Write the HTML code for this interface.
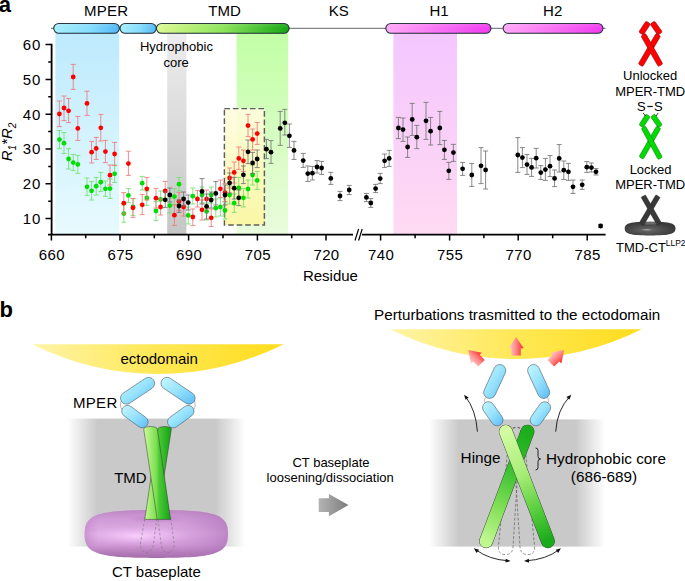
<!DOCTYPE html>
<html><head><meta charset="utf-8"><title>Figure</title>
<style>
html,body{margin:0;padding:0;background:#fff;}
body{width:685px;height:581px;overflow:hidden;}
svg{display:block;font-family:"Liberation Sans",sans-serif;}
text{fill:#000;}
</style></head><body>
<svg width="685" height="581" viewBox="0 0 685 581">
<defs>
<linearGradient id="gBlueBand" x1="0" y1="0" x2="0" y2="1"><stop offset="0" stop-color="#bdeafd"/><stop offset="1" stop-color="#e8fbfe"/></linearGradient>
<linearGradient id="gGreyBand" x1="0" y1="0" x2="0" y2="1"><stop offset="0" stop-color="#ededef"/><stop offset="1" stop-color="#c6c6c6"/></linearGradient>
<linearGradient id="gGreenBand" x1="0" y1="0" x2="0" y2="1"><stop offset="0" stop-color="#c2ffa6"/><stop offset="1" stop-color="#eafcdc"/></linearGradient>
<linearGradient id="gPinkBand" x1="0" y1="0" x2="0" y2="1"><stop offset="0" stop-color="#f4c6ff"/><stop offset="1" stop-color="#ffdaf2"/></linearGradient>
<linearGradient id="gYBox" x1="0" y1="0" x2="0" y2="1"><stop offset="0" stop-color="#fffde0"/><stop offset="1" stop-color="#fcf6a0"/></linearGradient>
<linearGradient id="gBluePill" x1="0" y1="0" x2="1" y2="0"><stop offset="0" stop-color="#a8f0ff"/><stop offset="0.55" stop-color="#86dcfc"/><stop offset="1" stop-color="#52b6f6"/></linearGradient>
<linearGradient id="gGreenPill" x1="0" y1="0" x2="1" y2="0"><stop offset="0" stop-color="#def994"/><stop offset="0.5" stop-color="#8ee45c"/><stop offset="1" stop-color="#14a614"/></linearGradient>
<linearGradient id="gPinkPill" x1="0" y1="0" x2="1" y2="0"><stop offset="0" stop-color="#ffaaf8"/><stop offset="1" stop-color="#f03cf0"/></linearGradient>
<linearGradient id="gPillHi" x1="0" y1="0" x2="0" y2="1"><stop offset="0" stop-color="#fff" stop-opacity="0.12"/><stop offset="0.5" stop-color="#fff" stop-opacity="0"/><stop offset="1" stop-color="#000" stop-opacity="0"/></linearGradient>
<linearGradient id="gYellow" x1="0" y1="0" x2="1" y2="0"><stop offset="0" stop-color="#fff4a8"/><stop offset="0.5" stop-color="#ffe855"/><stop offset="1" stop-color="#ffdc1c"/></linearGradient>
<linearGradient id="gMemb" x1="0" y1="0" x2="1" y2="0"><stop offset="0" stop-color="#c9c9c9" stop-opacity="0"/><stop offset="0.17" stop-color="#c9c9c9" stop-opacity="1"/><stop offset="0.83" stop-color="#c9c9c9" stop-opacity="1"/><stop offset="1" stop-color="#c9c9c9" stop-opacity="0"/></linearGradient>
<linearGradient id="gRodL" gradientUnits="userSpaceOnUse" x1="144" y1="0" x2="171" y2="0"><stop offset="0" stop-color="#ccfb9a"/><stop offset="0.46" stop-color="#7ade4e"/><stop offset="0.56" stop-color="#4cc838"/><stop offset="1" stop-color="#10a410"/></linearGradient>
<linearGradient id="gRodR" gradientUnits="userSpaceOnUse" x1="484" y1="0" x2="552" y2="0"><stop offset="0" stop-color="#ccfb98"/><stop offset="0.4" stop-color="#94e660"/><stop offset="0.75" stop-color="#38be2a"/><stop offset="1" stop-color="#0c9e0c"/></linearGradient>
<linearGradient id="gRodF" gradientUnits="userSpaceOnUse" x1="499" y1="436" x2="553" y2="538"><stop offset="0" stop-color="#d2fba2"/><stop offset="0.4" stop-color="#a6ec76"/><stop offset="0.7" stop-color="#5cd040"/><stop offset="1" stop-color="#1aaa1a"/></linearGradient>
<linearGradient id="gRodB" gradientUnits="userSpaceOnUse" x1="536" y1="436" x2="480" y2="538"><stop offset="0" stop-color="#1aae1a"/><stop offset="0.35" stop-color="#38c030"/><stop offset="0.7" stop-color="#84e058"/><stop offset="1" stop-color="#c0f890"/></linearGradient>
<linearGradient id="gBlueCap" x1="0" y1="0" x2="1" y2="1"><stop offset="0" stop-color="#c6f6ff"/><stop offset="0.5" stop-color="#98e3fc"/><stop offset="1" stop-color="#5abaf6"/></linearGradient>
<linearGradient id="gTorusV" x1="0" y1="0" x2="0" y2="1"><stop offset="0" stop-color="#bd86c4"/><stop offset="0.18" stop-color="#cf9ad6"/><stop offset="0.5" stop-color="#e2b0e8"/><stop offset="0.72" stop-color="#d29cd8"/><stop offset="0.9" stop-color="#b27ab8"/><stop offset="1" stop-color="#a46ca8"/></linearGradient>
<linearGradient id="gTorusH" x1="0" y1="0" x2="1" y2="0"><stop offset="0" stop-color="#b87cc0" stop-opacity="0.55"/><stop offset="0.1" stop-color="#c48acc" stop-opacity="0"/><stop offset="0.55" stop-color="#c48acc" stop-opacity="0"/><stop offset="1" stop-color="#a66cb0" stop-opacity="0.6"/></linearGradient>
<radialGradient id="gTorusLight" cx="0.5" cy="0.5" r="0.5"><stop offset="0" stop-color="#ffd4ff" stop-opacity="0.85"/><stop offset="0.5" stop-color="#f4c4f8" stop-opacity="0.45"/><stop offset="1" stop-color="#e6b4ec" stop-opacity="0"/></radialGradient>
<radialGradient id="gTorusHole" cx="0.5" cy="0.5" r="0.5"><stop offset="0" stop-color="#bd84c6" stop-opacity="0.9"/><stop offset="0.6" stop-color="#c58ccd" stop-opacity="0.6"/><stop offset="1" stop-color="#d29ad8" stop-opacity="0"/></radialGradient>
<radialGradient id="gTorus" cx="0.5" cy="0.5" r="0.5"><stop offset="0" stop-color="#d69adc"/><stop offset="0.7" stop-color="#d294da"/><stop offset="0.92" stop-color="#c080c8"/><stop offset="1" stop-color="#b070ba"/></radialGradient>
<radialGradient id="gTorusHi" cx="0.5" cy="0.5" r="0.5"><stop offset="0" stop-color="#b878c0"/><stop offset="1" stop-color="#d496da" stop-opacity="0"/></radialGradient>
<radialGradient id="gDarkTorus" cx="0.45" cy="0.6" r="0.55"><stop offset="0" stop-color="#6a6a6a"/><stop offset="0.5" stop-color="#505050"/><stop offset="1" stop-color="#3a3a3a"/></radialGradient>
<radialGradient id="gDarkHi" cx="0.5" cy="0.5" r="0.5"><stop offset="0" stop-color="#c4c4c4"/><stop offset="1" stop-color="#7a7a7a" stop-opacity="0"/></radialGradient>
<linearGradient id="gArrow" x1="0" y1="0" x2="1" y2="0"><stop offset="0" stop-color="#b4b4b4"/><stop offset="1" stop-color="#7c7c7c"/></linearGradient>
<linearGradient id="gRedArrow" x1="0" y1="0" x2="1" y2="0"><stop offset="0" stop-color="#ffd0d0"/><stop offset="0.5" stop-color="#ff8888"/><stop offset="1" stop-color="#ff2222"/></linearGradient>
<marker id="ah" markerWidth="6" markerHeight="6" refX="3.4" refY="3" orient="auto-start-reverse" markerUnits="userSpaceOnUse"><path d="M0.6 1L5.6 3L0.6 5Z" fill="#111"/></marker>
</defs>

<!-- ===== PANEL A ===== -->
<text x="-1.3" y="11.7" font-size="22" font-weight="bold" fill="#000">a</text>

<!-- bands -->
<rect x="55.4" y="33" width="63.8" height="201" fill="url(#gBlueBand)"/>
<rect x="167.2" y="33" width="19.2" height="201" fill="url(#gGreyBand)"/>
<rect x="236.6" y="33" width="51.6" height="201" fill="url(#gGreenBand)"/>
<rect x="393.4" y="33" width="63.6" height="201" fill="url(#gPinkBand)"/>
<rect x="224.4" y="108.6" width="40" height="116.4" fill="url(#gYBox)" fill-opacity="0.9" stroke="#5e5e5e" stroke-width="1.45" stroke-dasharray="5.6 2.9"/>

<!-- domain bar -->
<path d="M51 28.3H605.5" stroke="#555" stroke-width="0.9"/>
<g stroke="#1c2a33" stroke-width="1.05">
<rect x="53.7" y="23.4" width="65.7" height="9.8" rx="5.2" ry="4.9" fill="url(#gBluePill)"/>
<rect x="120" y="23.4" width="36.3" height="9.8" rx="5.2" ry="4.9" fill="url(#gBluePill)"/>
<rect x="156.4" y="23.4" width="132.7" height="9.8" rx="5.2" ry="4.9" fill="url(#gGreenPill)"/>
<rect x="385.8" y="23.4" width="105.2" height="9.8" rx="5.2" ry="4.9" fill="url(#gPinkPill)"/>
<rect x="503.1" y="23.4" width="99.9" height="9.8" rx="5.2" ry="4.9" fill="url(#gPinkPill)"/>
</g>
<g fill="url(#gPillHi)">
<rect x="53.7" y="23.4" width="65.7" height="9.8" rx="5.2" ry="4.9"/>
<rect x="120" y="23.4" width="36.3" height="9.8" rx="5.2" ry="4.9"/>
<rect x="156.4" y="23.4" width="132.7" height="9.8" rx="5.2" ry="4.9"/>
<rect x="385.8" y="23.4" width="105.2" height="9.8" rx="5.2" ry="4.9"/>
<rect x="503.1" y="23.4" width="99.9" height="9.8" rx="5.2" ry="4.9"/>
</g>
<g font-size="15" text-anchor="middle">
<text x="106" y="16.2" textLength="44.2">MPER</text>
<text x="224.6" y="16">TMD</text>
<text x="338.8" y="16">KS</text>
<text x="439" y="16">H1</text>
<text x="552.7" y="16">H2</text>
</g>
<g font-size="13" text-anchor="middle">
<text x="176.4" y="51.3">Hydrophobic</text>
<text x="176.2" y="66.7">core</text>
</g>

<!-- data -->
<path d="M59.4 130.6V148.6M56.9 130.6h5M56.9 148.6h5M64.0 132.6V153.4M61.5 132.6h5M61.5 153.4h5M68.6 148.6V169.0M66.1 148.6h5M66.1 169.0h5M73.2 154.4V170.6M70.7 154.4h5M70.7 170.6h5M77.8 155.4V173.4M75.3 155.4h5M75.3 173.4h5M87.0 178.0V195.4M84.5 178.0h5M84.5 195.4h5M91.6 181.4V200.0M89.1 181.4h5M89.1 200.0h5M96.2 177.4V195.0M93.7 177.4h5M93.7 195.0h5M100.8 172.4V191.6M98.3 172.4h5M98.3 191.6h5M105.4 181.0V196.4M102.9 181.0h5M102.9 196.4h5M110.0 179.0V198.4M107.5 179.0h5M107.5 198.4h5M114.6 165.0V182.4M112.1 165.0h5M112.1 182.4h5M123.8 205.0V222.2M121.3 205.0h5M121.3 222.2h5M128.4 188.6V202.6M125.9 188.6h5M125.9 202.6h5M133.0 198.6V215.4M130.5 198.6h5M130.5 215.4h5M142.2 176.4V190.0M139.7 176.4h5M139.7 190.0h5M146.8 191.0V205.4M144.3 191.0h5M144.3 205.4h5M156.0 201.6V220.4M153.5 201.6h5M153.5 220.4h5M160.6 191.0V208.0M158.1 191.0h5M158.1 208.0h5M169.8 198.0V213.0M167.3 198.0h5M167.3 213.0h5M174.4 188.6V204.6M171.9 188.6h5M171.9 204.6h5M179.0 177.4V191.0M176.5 177.4h5M176.5 191.0h5M188.2 207.0V224.0M185.7 207.0h5M185.7 224.0h5M192.8 188.0V204.0M190.3 188.0h5M190.3 204.0h5M202.0 187.0V203.0M199.5 187.0h5M199.5 203.0h5M206.6 203.0V220.0M204.1 203.0h5M204.1 220.0h5M211.2 187.0V203.0M208.7 187.0h5M208.7 203.0h5M215.8 199.0V217.0M213.3 199.0h5M213.3 217.0h5M220.4 198.0V216.0M217.9 198.0h5M217.9 216.0h5M225.0 202.0V219.0M222.5 202.0h5M222.5 219.0h5M229.6 186.0V204.0M227.1 186.0h5M227.1 204.0h5M234.2 194.0V212.4M231.7 194.0h5M231.7 212.4h5M238.8 177.4V198.0M236.3 177.4h5M236.3 198.0h5M243.4 188.6V207.0M240.9 188.6h5M240.9 207.0h5M248.0 180.0V198.0M245.5 180.0h5M245.5 198.0h5M252.6 165.0V185.0M250.1 165.0h5M250.1 185.0h5M257.2 171.4V189.4M254.7 171.4h5M254.7 189.4h5" stroke="#6fe06f" stroke-width="0.85" fill="none"/>
<g fill="#00dd00"><circle cx="59.4" cy="139.6" r="2.4"/><circle cx="64.0" cy="143.2" r="2.4"/><circle cx="68.6" cy="159.0" r="2.4"/><circle cx="73.2" cy="162.6" r="2.4"/><circle cx="77.8" cy="164.4" r="2.4"/><circle cx="87.0" cy="186.8" r="2.4"/><circle cx="91.6" cy="190.8" r="2.4"/><circle cx="96.2" cy="186.2" r="2.4"/><circle cx="100.8" cy="182.2" r="2.4"/><circle cx="105.4" cy="188.8" r="2.4"/><circle cx="110.0" cy="188.6" r="2.4"/><circle cx="114.6" cy="173.8" r="2.4"/><circle cx="123.8" cy="213.6" r="2.4"/><circle cx="128.4" cy="195.4" r="2.4"/><circle cx="133.0" cy="207.0" r="2.4"/><circle cx="142.2" cy="183.2" r="2.4"/><circle cx="146.8" cy="198.0" r="2.4"/><circle cx="156.0" cy="211.0" r="2.4"/><circle cx="160.6" cy="199.4" r="2.4"/><circle cx="169.8" cy="205.6" r="2.4"/><circle cx="174.4" cy="196.6" r="2.4"/><circle cx="179.0" cy="184.2" r="2.4"/><circle cx="188.2" cy="215.4" r="2.4"/><circle cx="192.8" cy="196.2" r="2.4"/><circle cx="202.0" cy="195.0" r="2.4"/><circle cx="206.6" cy="211.4" r="2.4"/><circle cx="211.2" cy="195.0" r="2.4"/><circle cx="215.8" cy="208.2" r="2.4"/><circle cx="220.4" cy="207.0" r="2.4"/><circle cx="225.0" cy="210.4" r="2.4"/><circle cx="229.6" cy="195.0" r="2.4"/><circle cx="234.2" cy="203.2" r="2.4"/><circle cx="238.8" cy="188.0" r="2.4"/><circle cx="243.4" cy="197.8" r="2.4"/><circle cx="248.0" cy="189.0" r="2.4"/><circle cx="252.6" cy="175.0" r="2.4"/><circle cx="257.2" cy="180.4" r="2.4"/></g>
<path d="M59.4 101.0V126.6M56.9 101.0h5M56.9 126.6h5M64.0 96.0V120.6M61.5 96.0h5M61.5 120.6h5M68.6 98.4V122.6M66.1 98.4h5M66.1 122.6h5M73.2 64.4V89.4M70.7 64.4h5M70.7 89.4h5M77.8 116.4V140.4M75.3 116.4h5M75.3 140.4h5M87.0 91.2V115.4M84.5 91.2h5M84.5 115.4h5M91.6 141.4V163.0M89.1 141.4h5M89.1 163.0h5M96.2 137.4V159.4M93.7 137.4h5M93.7 159.4h5M100.8 114.4V141.0M98.3 114.4h5M98.3 141.0h5M105.4 140.4V162.6M102.9 140.4h5M102.9 162.6h5M110.0 165.0V185.0M107.5 165.0h5M107.5 185.0h5M114.6 142.4V165.6M112.1 142.4h5M112.1 165.6h5M123.8 192.6V214.0M121.3 192.6h5M121.3 214.0h5M128.4 151.2V175.4M125.9 151.2h5M125.9 175.4h5M133.0 198.4V217.4M130.5 198.4h5M130.5 217.4h5M142.2 194.4V214.6M139.7 194.4h5M139.7 214.6h5M146.8 177.4V200.0M144.3 177.4h5M144.3 200.0h5M156.0 188.4V208.0M153.5 188.4h5M153.5 208.0h5M160.6 199.0V215.0M158.1 199.0h5M158.1 215.0h5M165.2 181.4V200.6M162.7 181.4h5M162.7 200.6h5M174.4 205.0V225.4M171.9 205.0h5M171.9 225.4h5M179.0 192.6V210.6M176.5 192.6h5M176.5 210.6h5M183.6 198.0V216.0M181.1 198.0h5M181.1 216.0h5M192.8 209.0V225.6M190.3 209.0h5M190.3 225.6h5M197.4 190.6V207.0M194.9 190.6h5M194.9 207.0h5M202.0 200.0V220.0M199.5 200.0h5M199.5 220.0h5M206.6 190.0V208.0M204.1 190.0h5M204.1 208.0h5M211.2 209.0V226.4M208.7 209.0h5M208.7 226.4h5M220.4 180.0V197.4M217.9 180.0h5M217.9 197.4h5M225.0 183.6V201.6M222.5 183.6h5M222.5 201.6h5M229.6 168.0V188.0M227.1 168.0h5M227.1 188.0h5M234.2 162.0V183.0M231.7 162.0h5M231.7 183.0h5M238.8 147.0V169.4M236.3 147.0h5M236.3 169.4h5M243.4 150.0V171.4M240.9 150.0h5M240.9 171.4h5M248.0 114.4V136.6M245.5 114.4h5M245.5 136.6h5M252.6 129.0V150.0M250.1 129.0h5M250.1 150.0h5M257.2 122.4V144.4M254.7 122.4h5M254.7 144.4h5" stroke="#f07878" stroke-width="0.85" fill="none"/>
<g fill="#ff0000"><circle cx="59.4" cy="114.0" r="2.4"/><circle cx="64.0" cy="108.0" r="2.4"/><circle cx="68.6" cy="110.8" r="2.4"/><circle cx="73.2" cy="77.0" r="2.4"/><circle cx="77.8" cy="128.4" r="2.4"/><circle cx="87.0" cy="103.4" r="2.4"/><circle cx="91.6" cy="152.2" r="2.4"/><circle cx="96.2" cy="148.4" r="2.4"/><circle cx="100.8" cy="127.8" r="2.4"/><circle cx="105.4" cy="151.6" r="2.4"/><circle cx="110.0" cy="175.2" r="2.4"/><circle cx="114.6" cy="154.0" r="2.4"/><circle cx="123.8" cy="203.2" r="2.4"/><circle cx="128.4" cy="163.6" r="2.4"/><circle cx="133.0" cy="207.8" r="2.4"/><circle cx="142.2" cy="204.8" r="2.4"/><circle cx="146.8" cy="188.8" r="2.4"/><circle cx="156.0" cy="198.2" r="2.4"/><circle cx="160.6" cy="207.0" r="2.4"/><circle cx="165.2" cy="191.0" r="2.4"/><circle cx="174.4" cy="215.2" r="2.4"/><circle cx="179.0" cy="201.6" r="2.4"/><circle cx="183.6" cy="207.0" r="2.4"/><circle cx="192.8" cy="217.0" r="2.4"/><circle cx="197.4" cy="199.0" r="2.4"/><circle cx="202.0" cy="209.8" r="2.4"/><circle cx="206.6" cy="199.0" r="2.4"/><circle cx="211.2" cy="217.8" r="2.4"/><circle cx="220.4" cy="188.8" r="2.4"/><circle cx="225.0" cy="192.6" r="2.4"/><circle cx="229.6" cy="178.0" r="2.4"/><circle cx="234.2" cy="172.4" r="2.4"/><circle cx="238.8" cy="158.4" r="2.4"/><circle cx="243.4" cy="160.8" r="2.4"/><circle cx="248.0" cy="125.6" r="2.4"/><circle cx="252.6" cy="139.4" r="2.4"/><circle cx="257.2" cy="133.6" r="2.4"/></g>
<path d="M165.2 192.0V207.6M162.7 192.0h5M162.7 207.6h5M169.8 188.0V202.0M167.3 188.0h5M167.3 202.0h5M179.0 200.0V212.4M176.5 200.0h5M176.5 212.4h5M183.6 192.0V206.0M181.1 192.0h5M181.1 206.0h5M188.2 195.0V210.0M185.7 195.0h5M185.7 210.0h5M202.0 178.6V204.0M199.5 178.6h5M199.5 204.0h5M206.6 194.0V219.0M204.1 194.0h5M204.1 219.0h5M211.2 192.0V208.0M208.7 192.0h5M208.7 208.0h5M215.8 181.6V205.0M213.3 181.6h5M213.3 205.0h5M225.0 185.0V205.0M222.5 185.0h5M222.5 205.0h5M229.6 173.0V193.0M227.1 173.0h5M227.1 193.0h5M234.2 177.4V199.0M231.7 177.4h5M231.7 199.0h5M238.8 190.0V205.6M236.3 190.0h5M236.3 205.6h5M243.4 166.0V183.6M240.9 166.0h5M240.9 183.6h5M248.0 140.0V163.6M245.5 140.0h5M245.5 163.6h5M252.6 152.4V173.6M250.1 152.4h5M250.1 173.6h5M257.2 150.0V167.6M254.7 150.0h5M254.7 167.6h5M266.4 139.4V158.6M263.9 139.4h5M263.9 158.6h5M271.0 140.6V163.4M268.5 140.6h5M268.5 163.4h5M280.2 111.4V145.4M277.7 111.4h5M277.7 145.4h5M284.8 109.4V135.0M282.3 109.4h5M282.3 135.0h5M289.4 124.0V147.4M286.9 124.0h5M286.9 147.4h5M294.0 141.4V159.4M291.5 141.4h5M291.5 159.4h5M303.2 153.4V167.4M300.7 153.4h5M300.7 167.4h5M307.8 166.0V181.4M305.3 166.0h5M305.3 181.4h5M312.4 166.4V180.0M309.9 166.4h5M309.9 180.0h5M317.0 160.6V173.0M314.5 160.6h5M314.5 173.0h5M321.6 161.4V174.4M319.1 161.4h5M319.1 174.4h5M330.8 172.4V184.4M328.3 172.4h5M328.3 184.4h5M340.0 191.4V200.6M337.5 191.4h5M337.5 200.6h5M349.2 185.4V194.6M346.7 185.4h5M346.7 194.6h5M366.4 193.4V201.6M363.9 193.4h5M363.9 201.6h5M370.8 198.6V207.4M368.3 198.6h5M368.3 207.4h5M375.6 184.4V192.6M373.1 184.4h5M373.1 192.6h5M380.2 173.4V183.6M377.7 173.4h5M377.7 183.6h5M384.6 154.0V167.4M382.1 154.0h5M382.1 167.4h5M389.2 150.4V166.4M386.7 150.4h5M386.7 166.4h5M398.4 117.4V138.6M395.9 117.4h5M395.9 138.6h5M403.0 118.0V141.4M400.5 118.0h5M400.5 141.4h5M407.6 137.0V157.4M405.1 137.0h5M405.1 157.4h5M412.2 103.4V135.4M409.7 103.4h5M409.7 135.4h5M416.8 125.4V148.6M414.3 125.4h5M414.3 148.6h5M426.0 102.4V139.4M423.5 102.4h5M423.5 139.4h5M430.6 117.4V145.0M428.1 117.4h5M428.1 145.0h5M439.8 111.4V144.6M437.3 111.4h5M437.3 144.6h5M444.4 140.4V159.4M441.9 140.4h5M441.9 159.4h5M448.8 162.4V179.4M446.3 162.4h5M446.3 179.4h5M453.4 144.4V161.4M450.9 144.4h5M450.9 161.4h5M462.6 162.4V175.4M460.1 162.4h5M460.1 175.4h5M471.8 163.4V186.4M469.3 163.4h5M469.3 186.4h5M481.0 147.6V183.6M478.5 147.6h5M478.5 183.6h5M485.6 151.0V189.0M483.1 151.0h5M483.1 189.0h5M517.8 137.6V172.4M515.3 137.6h5M515.3 172.4h5M522.4 147.6V167.6M519.9 147.6h5M519.9 167.6h5M527.0 154.4V174.4M524.5 154.4h5M524.5 174.4h5M531.6 158.4V176.4M529.1 158.4h5M529.1 176.4h5M536.2 148.4V168.0M533.7 148.4h5M533.7 168.0h5M540.8 165.6V179.4M538.3 165.6h5M538.3 179.4h5M545.4 158.4V180.4M542.9 158.4h5M542.9 180.4h5M550.0 155.6V176.6M547.5 155.6h5M547.5 176.6h5M554.6 170.0V186.6M552.1 170.0h5M552.1 186.6h5M559.2 144.6V172.0M556.7 144.6h5M556.7 172.0h5M563.8 161.0V179.4M561.3 161.0h5M561.3 179.4h5M568.4 163.4V180.4M565.9 163.4h5M565.9 180.4h5M573.0 180.0V193.4M570.5 180.0h5M570.5 193.4h5M582.2 180.0V189.4M579.7 180.0h5M579.7 189.4h5M586.8 161.6V172.4M584.3 161.6h5M584.3 172.4h5M591.4 163.0V172.0M588.9 163.0h5M588.9 172.0h5M596.0 168.6V175.0M593.5 168.6h5M593.5 175.0h5M600.6 224.4V227.6M598.1 224.4h5M598.1 227.6h5" stroke="#747474" stroke-width="0.85" fill="none"/>
<g fill="#000"><circle cx="165.2" cy="199.8" r="2.4"/><circle cx="169.8" cy="195.0" r="2.4"/><circle cx="179.0" cy="206.0" r="2.4"/><circle cx="183.6" cy="199.0" r="2.4"/><circle cx="188.2" cy="202.6" r="2.4"/><circle cx="202.0" cy="191.4" r="2.4"/><circle cx="206.6" cy="206.4" r="2.4"/><circle cx="211.2" cy="200.0" r="2.4"/><circle cx="215.8" cy="193.4" r="2.4"/><circle cx="225.0" cy="195.0" r="2.4"/><circle cx="229.6" cy="183.0" r="2.4"/><circle cx="234.2" cy="188.2" r="2.4"/><circle cx="238.8" cy="197.8" r="2.4"/><circle cx="243.4" cy="174.8" r="2.4"/><circle cx="248.0" cy="151.8" r="2.4"/><circle cx="252.6" cy="163.0" r="2.4"/><circle cx="257.2" cy="159.0" r="2.4"/><circle cx="266.4" cy="149.2" r="2.4"/><circle cx="271.0" cy="152.2" r="2.4"/><circle cx="280.2" cy="128.4" r="2.4"/><circle cx="284.8" cy="122.8" r="2.4"/><circle cx="289.4" cy="135.8" r="2.4"/><circle cx="294.0" cy="150.4" r="2.4"/><circle cx="303.2" cy="160.6" r="2.4"/><circle cx="307.8" cy="173.6" r="2.4"/><circle cx="312.4" cy="173.2" r="2.4"/><circle cx="317.0" cy="167.0" r="2.4"/><circle cx="321.6" cy="168.0" r="2.4"/><circle cx="330.8" cy="178.4" r="2.4"/><circle cx="340.0" cy="196.0" r="2.4"/><circle cx="349.2" cy="190.0" r="2.4"/><circle cx="366.4" cy="197.4" r="2.4"/><circle cx="370.8" cy="203.0" r="2.4"/><circle cx="375.6" cy="188.6" r="2.4"/><circle cx="380.2" cy="178.6" r="2.4"/><circle cx="384.6" cy="160.8" r="2.4"/><circle cx="389.2" cy="158.4" r="2.4"/><circle cx="398.4" cy="128.0" r="2.4"/><circle cx="403.0" cy="129.6" r="2.4"/><circle cx="407.6" cy="147.0" r="2.4"/><circle cx="412.2" cy="119.4" r="2.4"/><circle cx="416.8" cy="137.2" r="2.4"/><circle cx="426.0" cy="120.8" r="2.4"/><circle cx="430.6" cy="131.2" r="2.4"/><circle cx="439.8" cy="128.0" r="2.4"/><circle cx="444.4" cy="149.8" r="2.4"/><circle cx="448.8" cy="170.8" r="2.4"/><circle cx="453.4" cy="152.6" r="2.4"/><circle cx="462.6" cy="168.8" r="2.4"/><circle cx="471.8" cy="175.0" r="2.4"/><circle cx="481.0" cy="165.8" r="2.4"/><circle cx="485.6" cy="170.0" r="2.4"/><circle cx="517.8" cy="155.0" r="2.4"/><circle cx="522.4" cy="157.6" r="2.4"/><circle cx="527.0" cy="164.6" r="2.4"/><circle cx="531.6" cy="167.4" r="2.4"/><circle cx="536.2" cy="158.2" r="2.4"/><circle cx="540.8" cy="172.6" r="2.4"/><circle cx="545.4" cy="169.6" r="2.4"/><circle cx="550.0" cy="166.2" r="2.4"/><circle cx="554.6" cy="178.4" r="2.4"/><circle cx="559.2" cy="158.4" r="2.4"/><circle cx="563.8" cy="170.2" r="2.4"/><circle cx="568.4" cy="171.8" r="2.4"/><circle cx="573.0" cy="186.8" r="2.4"/><circle cx="582.2" cy="184.8" r="2.4"/><circle cx="586.8" cy="167.2" r="2.4"/><circle cx="591.4" cy="167.6" r="2.4"/><circle cx="596.0" cy="171.8" r="2.4"/><circle cx="600.6" cy="226.0" r="2.4"/></g>


<!-- axes -->
<g stroke="#000" fill="none">
<path d="M51.6 43.8V234.6" stroke-width="1.8"/>
<path d="M48 234.6H605.6" stroke-width="1.6"/>
<path d="M45.5 218.6H51.6M48.2 201.2H51.6M45.5 183.8H51.6M48.2 166.4H51.6M45.5 149.0H51.6M48.2 131.6H51.6M45.5 114.2H51.6M48.2 96.8H51.6M45.5 79.4H51.6M48.2 62.0H51.6M45.5 44.6H51.6" stroke-width="1.5"/>
<path d="M51.4 234.6V240.4M120 234.6V240.4M188.6 234.6V240.4M257.4 234.6V240.4M326 234.6V240.4M380.6 234.6V240.4M449.6 234.6V240.4M518.2 234.6V240.4M587.2 234.6V240.4M85.7 234.6V238.2M154.3 234.6V238.2M223 234.6V238.2M291.7 234.6V238.2M415.1 234.6V238.2M483.9 234.6V238.2M552.7 234.6V238.2" stroke-width="1.5"/>
</g>
<rect x="353" y="231" width="9" height="7" fill="#fff"/>
<path d="M355 240.5L358.6 229M358.6 240.5L362.2 229" stroke="#000" stroke-width="1.2" fill="none"/>
<g font-size="15"><text x="40.4" y="223.9" text-anchor="end" textLength="17.6">10</text><text x="40.4" y="189.1" text-anchor="end" textLength="17.6">20</text><text x="40.4" y="154.3" text-anchor="end" textLength="17.6">30</text><text x="40.4" y="119.5" text-anchor="end" textLength="17.6">40</text><text x="40.4" y="84.7" text-anchor="end" textLength="17.6">50</text><text x="40.4" y="49.9" text-anchor="end" textLength="17.6">60</text><text x="51.699999999999996" y="259.6" text-anchor="middle" textLength="25.8">660</text><text x="120.3" y="259.6" text-anchor="middle" textLength="25.8">675</text><text x="188.9" y="259.6" text-anchor="middle" textLength="25.8">690</text><text x="257.7" y="259.6" text-anchor="middle" textLength="25.8">705</text><text x="326.3" y="259.6" text-anchor="middle" textLength="25.8">720</text><text x="380.90000000000003" y="259.6" text-anchor="middle" textLength="25.8">740</text><text x="449.90000000000003" y="259.6" text-anchor="middle" textLength="25.8">755</text><text x="518.5" y="259.6" text-anchor="middle" textLength="25.8">770</text><text x="587.5" y="259.6" text-anchor="middle" textLength="25.8">785</text>
<text x="330.4" y="280.5" text-anchor="middle">Residue</text>
<g transform="translate(12.2 142) rotate(-90)"><text x="0" y="0" text-anchor="middle" font-style="italic">R<tspan font-size="10" dy="4">1</tspan><tspan dy="-4">*R</tspan><tspan font-size="10" dy="4">2</tspan></text></g>
</g>

<!-- legend -->
<rect x="-2.75" y="0" width="5.5" height="13.29" rx="1.5" transform="translate(648.3 22.5) rotate(33.33)" fill="#ff0000" stroke="#800000" stroke-width="0.5"/>
<rect x="-2.75" y="0" width="5.5" height="13.57" rx="1.5" transform="translate(652.3 22.5) rotate(-35.10)" fill="#ff0000" stroke="#800000" stroke-width="0.5"/>
<rect x="-2.65" y="0" width="5.3" height="35.54" rx="1.5" transform="translate(658.4 34.6) rotate(30.24)" fill="#ff0000" stroke="#800000" stroke-width="0.5"/>
<rect x="-2.65" y="0" width="5.3" height="35.29" rx="1.5" transform="translate(643.2 34.6) rotate(-29.54)" fill="#ff0000" stroke="#800000" stroke-width="0.5"/>
<rect x="-2.50" y="0" width="5" height="13.09" rx="1.4" transform="translate(648.1 115.3) rotate(32.84)" fill="#00dc00" stroke="#087808" stroke-width="0.5"/>
<rect x="-2.50" y="0" width="5" height="13.43" rx="1.4" transform="translate(652.6 115.3) rotate(-34.99)" fill="#00dc00" stroke="#087808" stroke-width="0.5"/>
<rect x="-2.45" y="0" width="4.9" height="35.47" rx="1.4" transform="translate(658.7 127.2) rotate(29.74)" fill="#00dc00" stroke="#087808" stroke-width="0.5"/>
<rect x="-2.45" y="0" width="4.9" height="35.48" rx="1.4" transform="translate(643.4 127.2) rotate(-28.44)" fill="#00dc00" stroke="#087808" stroke-width="0.5"/>
<path d="M643.2 112.9L645.4 116M658.2 112.9L656 116" stroke="#111" stroke-width="0.85" fill="none"/>
<path d="M624.7 228.6C624.7 223.2 629.8 221.7 650.1 221.7S675.5 223.2 675.5 228.6S670.4 235.5 650.1 235.5S624.7 234.0 624.7 228.6Z" fill="url(#gDarkTorus)"/>
<ellipse cx="650.4" cy="223.2" rx="9" ry="1.4" fill="#6a6a6a"/>
<ellipse cx="646.8" cy="229.8" rx="7.5" ry="1.3" fill="url(#gDarkHi)"/>
<rect x="-2.55" y="0" width="5.1" height="32.86" rx="0.8" transform="translate(658 196) rotate(30.55)" fill="#383838" stroke="#2a2a2a" stroke-width="0.3"/>
<rect x="-2.55" y="0" width="5.1" height="32.61" rx="0.8" transform="translate(643.2 196) rotate(-29.79)" fill="#383838" stroke="#2a2a2a" stroke-width="0.3"/>
<g font-size="13" text-anchor="middle">
<text x="650.2" y="80.3">Unlocked</text>
<text x="650.2" y="95.6">MPER-TMD</text>
<text x="641.4" y="111.2">S</text><text x="658.3" y="111.2">S</text>
<text x="650.6" y="173.8">Locked</text>
<text x="650.2" y="189.3">MPER-TMD</text>
</g>
<path d="M647.3 106.5H652.8" stroke="#111" stroke-width="1.2"/>
<text x="616" y="251.6" font-size="13">TMD-CT<tspan font-size="8.4" dy="-5.8">LLP2</tspan></text>

<!-- ===== PANEL B ===== -->
<text x="-0.6" y="316.7" font-size="22" font-weight="bold" fill="#000">b</text>

<!-- left diagram -->
<rect x="67.5" y="418.6" width="178" height="128" fill="url(#gMemb)"/>
<path d="M32.3 344.2H283.7A279 279 0 0 1 32.3 344.2Z" fill="url(#gYellow)"/>
<text x="159.2" y="363.7" font-size="15" text-anchor="middle">ectodomain</text>
<text x="95.1" y="408" font-size="15" text-anchor="middle" textLength="44.4">MPER</text>
<text x="130.4" y="483.2" font-size="15" text-anchor="middle">TMD</text>
<text x="156.4" y="577.2" font-size="15" text-anchor="middle">CT baseplate</text>
<!-- torus -->
<path d="M84.60000000000001 534C84.60000000000001 514.4 96.8 510.1 156.3 510.1S228.0 514.4 228.0 534S215.8 557.9 156.3 557.9S84.60000000000001 553.6 84.60000000000001 534Z" fill="url(#gTorusV)"/>
<path d="M84.60000000000001 534C84.60000000000001 514.4 96.8 510.1 156.3 510.1S228.0 514.4 228.0 534S215.8 557.9 156.3 557.9S84.60000000000001 553.6 84.60000000000001 534Z" fill="url(#gTorusH)"/>
<ellipse cx="138" cy="536" rx="52" ry="10" fill="url(#gTorusLight)"/>
<ellipse cx="156.3" cy="518.4" rx="34" ry="5.2" fill="url(#gTorusHole)"/>
<!-- dashed rod ends -->
<g fill="none" stroke="#777" stroke-width="0.6" stroke-dasharray="2.5 2">
<path d="M144.7 519.4L140.5 543Q140 552.4 146.5 552.4Q152.5 552.4 153.6 543L156.6 519.4"/>
<path d="M158 519.4L161 543Q161.8 552.4 168 552.4Q174.6 552.4 174 543L171 519.4"/>
</g>
<!-- rods -->
<g stroke="#333" stroke-width="0.5" stroke-linejoin="round">
<path d="M159.6 427.2Q164.8 425.6 170 427.2Q171.6 427.6 171.3 429.4L157.4 519.4H144.8L158 429.4Q158 427.6 159.6 427.2Z" fill="url(#gRodL)"/>
<path d="M145.4 427.2Q150.4 425.6 155.6 427.2Q157.2 427.6 157.4 429.4L170.6 519.4H157.2L143.8 429.4Q143.6 427.6 145.4 427.2Z" fill="url(#gRodL)"/>
</g>
<!-- MPER caps -->
<g stroke="#8a8a8a" stroke-width="0.6" fill="none">
<path d="M122 399.5Q118.4 405 122.6 410.5"/><path d="M193.6 399.5Q197.2 405 193 410.5"/>
</g>
<path d="M145.37 378.31L123.07 393.21A6.0 6.0 0 0 0 129.73 403.19L152.03 388.29A6.0 6.0 0 0 0 145.37 378.31Z" fill="url(#gBlueCap)" stroke="#4a5a66" stroke-width="0.6"/>
<path d="M163.57 388.29L185.87 403.19A6.0 6.0 0 0 0 192.53 393.21L170.23 378.31A6.0 6.0 0 0 0 163.57 388.29Z" fill="url(#gBlueCap)" stroke="#4a5a66" stroke-width="0.6"/>
<path d="M124.08 415.89L138.88 426.69A5.8 5.8 0 0 0 145.72 417.31L130.92 406.51A5.8 5.8 0 0 0 124.08 415.89Z" fill="url(#gBlueCap)" stroke="#4a5a66" stroke-width="0.6"/>
<path d="M184.80 406.50L169.90 417.30A5.8 5.8 0 0 0 176.70 426.70L191.60 415.90A5.8 5.8 0 0 0 184.80 406.50Z" fill="url(#gBlueCap)" stroke="#4a5a66" stroke-width="0.6"/>

<!-- middle -->
<g font-size="13" text-anchor="middle">
<text x="331" y="466.5">CT baseplate</text>
<text x="330.2" y="481.7">loosening/dissociation</text>
</g>
<path d="M318.7 498.3H328.9V494L348.5 505.1L328.9 516.2V512H318.7Z" fill="url(#gArrow)"/>

<!-- right diagram -->
<rect x="428.8" y="419.4" width="176.5" height="127.2" fill="url(#gMemb)"/>
<path d="M390.2 329.3H641.7A281 281 0 0 1 390.2 329.3Z" fill="url(#gYellow)"/>
<text x="517.2" y="320" font-size="15.2" text-anchor="middle">Perturbations trasmitted to the ectodomain</text>
<text x="480.6" y="463.2" font-size="15.3" text-anchor="middle">Hinge</text>
<text x="606" y="463.9" font-size="15.3" text-anchor="middle">Hydrophobic core</text>
<text x="604" y="482.1" font-size="15.3" text-anchor="middle">(686-689)</text>
<path d="M535.6 448Q538 448 538 450.5V456.4Q538 459 540.6 459Q538 459 538 461.6V467.5Q538 470 535.6 470" fill="none" stroke="#222" stroke-width="1"/>
<!-- red arrows -->
<g id="ra"><path d="M516.1 336.9L523.7 348.3H520.8V355.6H511.4V348.3H508.5Z" fill="url(#gRedArrow)"/></g>
<use href="#ra" transform="translate(468.3 350) rotate(-45) translate(-516.1 -336.9)"/>
<use href="#ra" transform="translate(564.1 350) rotate(45) translate(-516.1 -336.9)"/>
<!-- ghost rods -->
<g fill="none" stroke="#555" stroke-width="0.65" stroke-dasharray="2.8 1.8">
<path d="M509.5 431Q511 427.4 516 427.4Q521.4 427.4 520.4 432L513 547Q512.4 554.6 505.6 554.6Q498 554.6 498.4 547Z"/>
<path d="M523.6 431Q522 427.4 517 427.4Q511.6 427.4 512.6 432L520 547Q520.6 554.6 527.4 554.6Q535 554.6 534.6 547Z"/>
</g>
<!-- rods -->
<g stroke-linecap="round" fill="none">
<path d="M527.5 431.6L486.1 541.2" stroke="#3a4a3a" stroke-width="13.9"/>
<path d="M527.5 431.6L486.1 541.2" stroke="url(#gRodB)" stroke-width="13"/>
<path d="M505.8 431.6L547.9 541.2" stroke="#3a4a3a" stroke-width="13.9"/>
<path d="M505.8 431.6L547.9 541.2" stroke="url(#gRodF)" stroke-width="13"/>
</g>
<!-- MPER caps right -->
<g stroke="#8a8a8a" stroke-width="0.6" fill="none">
<path d="M485.4 397.5Q483.6 400 485 403"/><path d="M547.6 397.5Q549.4 400 548 403"/>
</g>
<path d="M494.35 367.99L484.25 389.89A6.0 6.0 0 0 0 495.15 394.91L505.25 373.01A6.0 6.0 0 0 0 494.35 367.99Z" fill="url(#gBlueCap)" stroke="#4a5a66" stroke-width="0.6"/>
<path d="M528.15 373.01L538.25 394.91A6.0 6.0 0 0 0 549.15 389.89L539.05 367.99A6.0 6.0 0 0 0 528.15 373.01Z" fill="url(#gBlueCap)" stroke="#4a5a66" stroke-width="0.6"/>
<path d="M483.63 410.99L492.43 423.39A5.85 5.85 0 0 0 501.97 416.61L493.17 404.21A5.85 5.85 0 0 0 483.63 410.99Z" fill="url(#gBlueCap)" stroke="#4a5a66" stroke-width="0.6"/>
<path d="M540.03 404.21L531.23 416.61A5.85 5.85 0 0 0 540.77 423.39L549.57 410.99A5.85 5.85 0 0 0 540.03 404.21Z" fill="url(#gBlueCap)" stroke="#4a5a66" stroke-width="0.6"/>
<!-- curved arrows -->
<g fill="none" stroke="#111" stroke-width="0.9">
<path d="M477.4 431.7Q476 410 465.4 396.4" marker-end="url(#ah)"/>
<path d="M555.7 431.7Q557 410 569.8 396.4" marker-end="url(#ah)"/>
<path d="M475.6 549.6Q489 559.6 508.4 560.8" marker-start="url(#ah)" marker-end="url(#ah)"/>
<path d="M559.2 549.6Q546 559.6 526.2 560.8" marker-start="url(#ah)" marker-end="url(#ah)"/>
</g>
</svg>
</body></html>
